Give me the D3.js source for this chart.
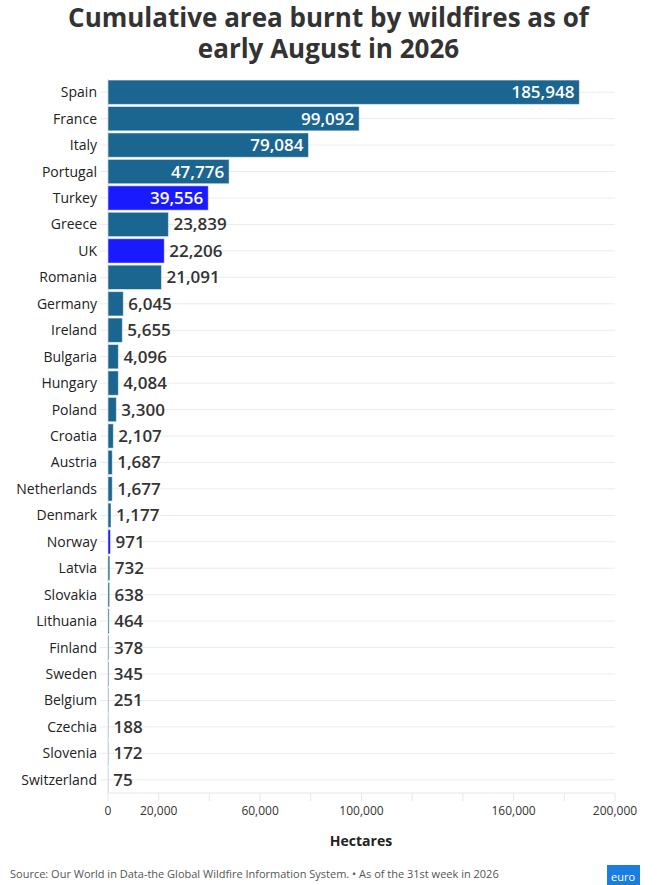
<!DOCTYPE html>
<html><head><meta charset="utf-8">
<script src="https://cdn.jsdelivr.net/npm/d3@7"></script>
<style>
body{margin:0;background:#fff;font-family:"Open Sans",sans-serif;}
</style></head>
<body>
<script>
(function(){
    var countries = ["Spain","France","Italy","Portugal","Turkey","Greece","UK","Romania","Germany","Ireland","Bulgaria","Hungary","Poland","Croatia","Austria","Netherlands","Denmark","Norway","Latvia","Slovakia","Lithuania","Finland","Sweden","Belgium","Czechia","Slovenia","Switzerland"];
    var hectares = [185948,99092,79084,47776,39556,23839,22206,21091,6045,5655,4096,4084,3300,2107,1687,1677,1177,971,732,638,464,378,345,251,188,172,75];
    var nonEU = ["Turkey","UK","Norway"];
    var tickValues = [0,20000,40000,60000,80000,100000,120000,140000,160000,180000,200000];
    var tickLabels = [0,20000,60000,100000,160000,200000];

    var width = 657, height = 885;
    var svg = d3.select("body").append("svg").attr("width", width).attr("height", height);

    svg.append("text").attr("x", width/2).attr("y", 27).attr("text-anchor","middle")
        .attr("font-size", 26).attr("font-weight","bold").attr("fill","#333")
        .text("Cumulative area burnt by wildfires as of");
    svg.append("text").attr("x", width/2).attr("y", 58).attr("text-anchor","middle")
        .attr("font-size", 26).attr("font-weight","bold").attr("fill","#333")
        .text("early August in 2026");

    var x = d3.scaleLinear().domain([0,200000]).range([108,615]);
    var y = d3.scaleBand().domain(countries).range([79,793]).paddingInner(0.08).paddingOuter(0.04);
    var fmt = d3.format(",");

    //row gridlines
    svg.selectAll(".grid").data(countries).enter().append("line")
        .attr("x1", 100).attr("x2", 615)
        .attr("y1", function(d){ return y(d) + y.bandwidth()/2; })
        .attr("y2", function(d){ return y(d) + y.bandwidth()/2; })
        .attr("stroke","#ebebeb");

    //axis line and ticks
    svg.append("line").attr("x1",108).attr("x2",615).attr("y1",793).attr("y2",793).attr("stroke","#e6e6e6");
    svg.selectAll(".tick").data(tickValues).enter().append("line")
        .attr("x1", function(d){ return x(d); }).attr("x2", function(d){ return x(d); })
        .attr("y1", 793).attr("y2", 801).attr("stroke","#e6e6e6");
    svg.selectAll(".tickLabel").data(tickLabels).enter().append("text")
        .attr("x", function(d){ return x(d); }).attr("y", 815).attr("text-anchor","middle")
        .attr("font-size", 12).attr("fill","#333").text(function(d){ return fmt(d); });
    svg.append("line").attr("x1",108).attr("x2",108).attr("y1",79).attr("y2",793).attr("stroke","#ccd6eb");

    svg.selectAll(".bar").data(countries).enter().append("rect")
        .attr("x", x(0)).attr("y", function(d){ return y(d); })
        .attr("width", function(d,i){ return x(hectares[i]) - x(0); })
        .attr("height", y.bandwidth())
        .attr("fill", function(d){ return nonEU.indexOf(d) >= 0 ? "#1a1aff" : "#1b6690"; })
        .attr("stroke", "#ffffff").attr("stroke-opacity", 0.5).attr("stroke-width", 1);

    svg.selectAll(".name").data(countries).enter().append("text")
        .attr("x", 97).attr("y", function(d){ return y(d) + y.bandwidth()/2 + 5; })
        .attr("text-anchor","end").attr("font-size", 14).attr("fill","#222")
        .text(function(d){ return d; });

    svg.selectAll(".val").data(countries).enter().append("text")
        .each(function(d,i){
            var v = hectares[i], inside = v > 30000;
            d3.select(this)
                .attr("x", inside ? x(v) - 5 : x(v) + 5)
                .attr("text-anchor", inside ? "end" : "start")
                .attr("fill", inside ? "#fff" : "#333");
        })
        .attr("y", function(d){ return y(d) + y.bandwidth()/2 + 6; })
        .attr("font-size", 17).attr("font-weight", 600)
        .text(function(d,i){ return fmt(hectares[i]); });

    svg.append("text").attr("x", 361).attr("y", 846).attr("text-anchor","middle")
        .attr("font-size", 14).attr("font-weight","bold").attr("fill","#222").text("Hectares");

    svg.append("text").attr("x", 10).attr("y", 878).attr("font-size", 11).attr("fill","#555")
        .text("Source: Our World in Data-the Global Wildfire Information System. \u2022 As of the 31st week in 2026");
    svg.append("rect").attr("x", 607).attr("y", 865).attr("width", 33).attr("height", 20).attr("fill","#1a7de0");
    svg.append("text").attr("x", 623).attr("y", 881).attr("text-anchor","middle").attr("font-size", 11).attr("fill","#fff").text("euro");
})();
</script>
</body></html>
